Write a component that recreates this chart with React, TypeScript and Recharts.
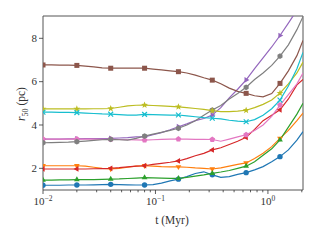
import React from 'react';
import { LineChart, Line, XAxis, YAxis, ReferenceArea } from 'recharts';

// time samples (Myr)
const times = [
  0.01, 0.0119, 0.0141, 0.0168, 0.02, 0.0238, 0.0283, 0.0336, 0.04, 0.0476, 0.0566, 0.0673,
  0.08, 0.0951, 0.113, 0.135, 0.16, 0.19, 0.226, 0.269, 0.32, 0.381, 0.453, 0.538,
  0.64, 0.761, 0.905, 1.08, 1.28, 1.52, 1.81, 2.05,
];

const blue = [
  1.22, 1.22, 1.22, 1.23, 1.23, 1.23, 1.24, 1.25, 1.26, 1.25, 1.24, 1.23,
  1.23, 1.25, 1.32, 1.42, 1.5, 1.62, 1.76, 1.84, 1.7, 1.58, 1.62, 1.72,
  1.8, 1.93, 2.08, 2.3, 2.54, 2.85, 3.3, 3.69,
];
const orange = [
  2.12, 2.12, 2.12, 2.12, 2.12, 2.1, 2.05, 2.0, 1.97, 2.0, 2.05, 2.1,
  2.12, 2.1, 2.08, 2.07, 2.07, 2.05, 2.02, 2.0, 1.97, 2.02, 2.1, 2.18,
  2.25, 2.45, 2.7, 3.0, 3.38, 3.75, 4.2, 4.55,
];
const green = [
  1.46, 1.46, 1.47, 1.47, 1.48, 1.48, 1.48, 1.49, 1.5, 1.51, 1.53, 1.55,
  1.57, 1.56, 1.55, 1.54, 1.54, 1.58, 1.64, 1.7, 1.77, 1.83, 1.9, 2.0,
  2.1, 2.3, 2.6, 2.9, 3.31, 3.9, 4.5, 5.0,
];
const red = [
  1.97, 1.97, 1.97, 1.97, 1.97, 1.97, 1.98, 1.99, 2.0, 2.03, 2.07, 2.1,
  2.12, 2.18, 2.23, 2.28, 2.34, 2.45, 2.58, 2.69, 2.85, 2.95, 3.1, 3.25,
  3.43, 3.8, 4.2, 4.45, 4.7, 5.2, 5.85, 6.1,
];
const purple = [
  3.35, 3.35, 3.35, 3.36, 3.36, 3.37, 3.37, 3.37, 3.38, 3.4, 3.42, 3.45,
  3.45, 3.55, 3.65, 3.78, 3.92, 4.05, 4.2, 4.3, 4.46, 4.8, 5.25, 5.65,
  6.08, 6.6, 7.1, 7.6, 8.13, 8.7, 9.3, 9.8,
];
const brown = [
  6.77, 6.77, 6.76, 6.76, 6.75, 6.72, 6.68, 6.64, 6.62, 6.62, 6.62, 6.62,
  6.62, 6.58, 6.54, 6.5, 6.46, 6.4, 6.3, 6.18, 6.07, 5.9, 5.7, 5.55,
  5.46, 5.35, 5.3, 5.45, 5.92, 6.5, 7.2, 7.9,
];
const pink = [
  3.35, 3.35, 3.35, 3.35, 3.35, 3.35, 3.35, 3.34, 3.34, 3.33, 3.32, 3.31,
  3.3, 3.32, 3.34, 3.35, 3.35, 3.35, 3.34, 3.34, 3.33, 3.25, 3.35, 3.45,
  3.55, 3.75, 4.0, 4.4, 4.92, 5.4, 5.9, 6.4,
];
const gray = [
  3.18, 3.19, 3.2, 3.21, 3.23, 3.26, 3.29, 3.32, 3.34, 3.32, 3.3, 3.38,
  3.49, 3.58, 3.66, 3.75, 3.85, 4.0, 4.2, 4.45, 4.69, 4.9, 5.2, 5.45,
  5.74, 6.1, 6.4, 6.75, 7.18, 7.7, 8.4, 9.0,
];
const olive = [
  4.74, 4.74, 4.74, 4.74, 4.74, 4.74, 4.75, 4.75, 4.76, 4.82, 4.88, 4.91,
  4.92, 4.9, 4.88, 4.86, 4.84, 4.8, 4.76, 4.72, 4.66, 4.62, 4.62, 4.64,
  4.68, 4.8, 4.95, 5.15, 5.47, 5.9, 6.4, 6.9,
];
const cyan = [
  4.59, 4.59, 4.58, 4.58, 4.57, 4.55, 4.53, 4.51, 4.5, 4.48, 4.46, 4.46,
  4.49, 4.48, 4.47, 4.46, 4.46, 4.42, 4.38, 4.34, 4.31, 4.28, 4.22, 4.18,
  4.15, 4.25, 4.45, 4.75, 5.15, 5.8, 6.6, 7.35,
];

const majorTicks = [0.01, 0.1, 1];
const majorExp = ['−2', '−1', '0'];
const minorTicks = [
  0.02, 0.03, 0.04, 0.05, 0.06, 0.07, 0.08, 0.09,
  0.2, 0.3, 0.4, 0.5, 0.6, 0.7, 0.8, 0.9, 2,
];
const yTicks = [2, 4, 6, 8];
const xDomain = [0.01, 2.05];
const yDomain = [1, 9.03];
const markerEvery = 4;

const series = [
  { key: 'blue', values: blue, color: '#1f77b4', marker: 'o' },
  { key: 'orange', values: orange, color: '#ff7f0e', marker: 'v' },
  { key: 'green', values: green, color: '#2ca02c', marker: '^' },
  { key: 'red', values: red, color: '#d62728', marker: '<' },
  { key: 'purple', values: purple, color: '#9467bd', marker: '>' },
  { key: 'brown', values: brown, color: '#8c564b', marker: 's' },
  { key: 'pink', values: pink, color: '#e377c2', marker: 'p' },
  { key: 'gray', values: gray, color: '#7f7f7f', marker: 'h' },
  { key: 'olive', values: olive, color: '#bcbd22', marker: '*' },
  { key: 'cyan', values: cyan, color: '#17becf', marker: 'x' },
];

const data = times.map((t, i) => {
  const row: any = { t };
  series.forEach((s) => (row[s.key] = s.values[i]));
  return row;
});

const FONT = '"Liberation Serif", "DejaVu Serif", serif';
const INK = '#333';

function polyPoints(cx: number, cy: number, n: number, r: number, rot: number) {
  const pts: string[] = [];
  for (let k = 0; k < n; k++) {
    const a = rot + (k * 2 * Math.PI) / n;
    pts.push(`${cx + r * Math.cos(a)},${cy + r * Math.sin(a)}`);
  }
  return pts.join(' ');
}

function starPoints(cx: number, cy: number, ro: number, ri: number) {
  const pts: string[] = [];
  for (let k = 0; k < 10; k++) {
    const a = -Math.PI / 2 + (k * Math.PI) / 5;
    const r = k % 2 === 0 ? ro : ri;
    pts.push(`${cx + r * Math.cos(a)},${cy + r * Math.sin(a)}`);
  }
  return pts.join(' ');
}

function marker(shape: string, cx: number, cy: number, color: string) {
  switch (shape) {
    case 'o':
      return <circle cx={cx} cy={cy} r={2.7} fill={color} />;
    case 'v':
      return <polygon points={polyPoints(cx, cy, 3, 3.3, Math.PI / 2)} fill={color} />;
    case '^':
      return <polygon points={polyPoints(cx, cy, 3, 3.3, -Math.PI / 2)} fill={color} />;
    case '<':
      return <polygon points={polyPoints(cx, cy, 3, 3.3, Math.PI)} fill={color} />;
    case '>':
      return <polygon points={polyPoints(cx, cy, 3, 3.3, 0)} fill={color} />;
    case 's':
      return <rect x={cx - 2.5} y={cy - 2.5} width={5} height={5} fill={color} />;
    case 'p':
      return <polygon points={polyPoints(cx, cy, 5, 3, -Math.PI / 2)} fill={color} />;
    case 'h':
      return <polygon points={polyPoints(cx, cy, 6, 2.9, -Math.PI / 2)} fill={color} />;
    case '*':
      return <polygon points={starPoints(cx, cy, 3.6, 1.5)} fill={color} />;
    default:
      return (
        <g stroke={color} strokeWidth={1.2}>
          <line x1={cx - 2.4} y1={cy - 2.4} x2={cx + 2.4} y2={cy + 2.4} />
          <line x1={cx - 2.4} y1={cy + 2.4} x2={cx + 2.4} y2={cy - 2.4} />
        </g>
      );
  }
}

function XTick(props: any) {
  const { x, y, payload } = props;
  const idx = majorTicks.indexOf(payload.value);
  const major = idx >= 0;
  return (
    <g>
      <line x1={x} x2={x} y1={y} y2={y + (major ? 4 : 2.3)} stroke={INK} strokeWidth={0.8} />
      {major && (
        <text x={x} y={y + 15} textAnchor="middle" fontFamily={FONT} fontSize={11} fill={INK}>
          <tspan>10</tspan>
          <tspan dy={-4.5} fontSize={7.5}>{majorExp[idx]}</tspan>
        </text>
      )}
    </g>
  );
}

function YTick(props: any) {
  const { x, y, payload } = props;
  return (
    <g>
      <line x1={x - 4} x2={x} y1={y} y2={y} stroke={INK} strokeWidth={0.8} />
      <text x={x - 6} y={y + 3.8} textAnchor="end" fontFamily={FONT} fontSize={11} fill={INK}>
        {payload.value}
      </text>
    </g>
  );
}

export default function App() {
  return (
    <div style={{ position: 'absolute', left: 0, top: 0, background: '#fff' }}>
      <LineChart
        width={320}
        height={240}
        data={data}
        margin={{ top: 16, right: 17, bottom: 20, left: 0 }}
      >
        <XAxis
          dataKey="t"
          type="number"
          scale="log"
          domain={xDomain}
          allowDataOverflow
          ticks={[...majorTicks, ...minorTicks]}
          interval={0}
          tick={<XTick />}
          tickLine={false}
          axisLine={false}
          tickSize={0}
          tickMargin={0}
          height={30}
          label={{
            content: () => (
              <text x={172} y={224} textAnchor="middle" fontFamily={FONT} fontSize={11.5} fill={INK}>
                t (Myr)
              </text>
            ),
          }}
        />
        <YAxis
          type="number"
          domain={yDomain}
          allowDataOverflow
          ticks={yTicks}
          interval={0}
          tick={<YTick />}
          tickLine={false}
          axisLine={false}
          tickSize={0}
          tickMargin={0}
          width={43}
          label={{
            content: () => (
              <text
                transform="translate(25,104) rotate(-90)"
                textAnchor="middle"
                fontFamily={FONT}
                fontSize={11.5}
                fill={INK}
              >
                <tspan fontStyle="italic">r</tspan>
                <tspan dy={2.5} fontSize={8}>50</tspan>
                <tspan dy={-2.5}> (pc)</tspan>
              </text>
            ),
          }}
        />
        {series.map((s) => (
          <Line
            key={s.key}
            dataKey={s.key}
            stroke={s.color}
            strokeWidth={1.2}
            isAnimationActive={false}
            activeDot={false}
            dot={(p: any) =>
              p.index % markerEvery === 0 && p.cx != null && p.cy != null ? (
                <g key={`${s.key}-${p.index}`}>{marker(s.marker, p.cx, p.cy, s.color)}</g>
              ) : (
                <g key={`${s.key}-${p.index}`} />
              )
            }
          />
        ))}
        <ReferenceArea
          x1={xDomain[0]}
          x2={xDomain[1]}
          y1={yDomain[0]}
          y2={yDomain[1]}
          fill="none"
          stroke="#555"
          strokeWidth={1}
          fillOpacity={0}
          ifOverflow="visible"
        />
      </LineChart>
    </div>
  );
}
